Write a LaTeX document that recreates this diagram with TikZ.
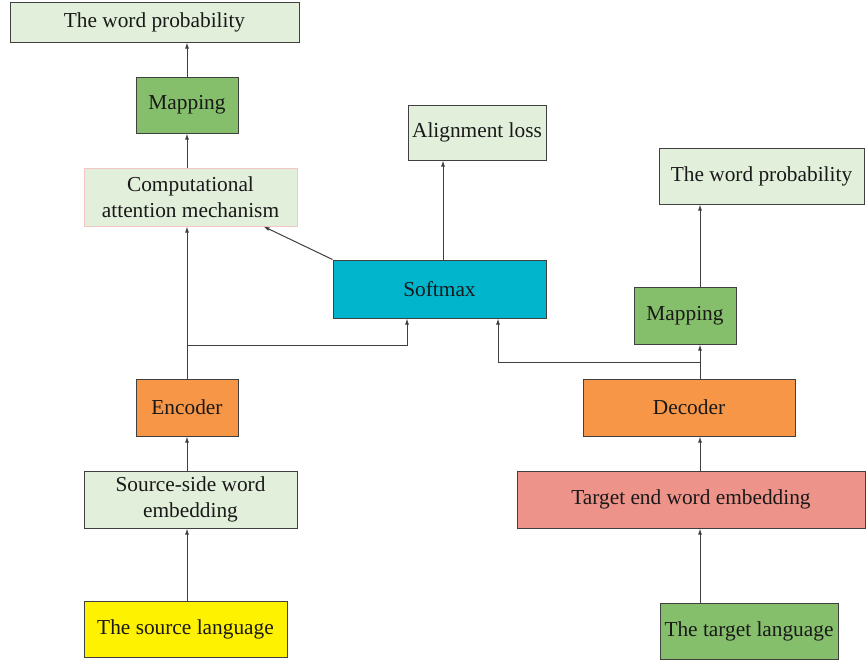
\documentclass[tikz,border=0pt]{standalone}
\usepackage{fontspec}
\setmainfont{Liberation Serif}
\usetikzlibrary{arrows.meta}

\definecolor{paleGreen}{HTML}{E2EFDA}
\definecolor{leafGreen}{HTML}{86BF6B}
\definecolor{encOrange}{HTML}{F79646}
\definecolor{softCyan}{HTML}{00B5CC}
\definecolor{salmonRed}{HTML}{EE938A}
\definecolor{srcYellow}{HTML}{FFF200}
\definecolor{pinkEdge}{HTML}{F4C7C3}

\begin{document}
\begin{tikzpicture}[x=0.75pt, y=-0.75pt,
        every node/.style={font=\fontsize{16}{19.5}\selectfont, text=black!90},
        block/.style={draw=black!75, line width=0.75pt, align=center, inner sep=0pt},
        flow/.style={->, >={Latex[length=4.5pt,width=3pt]}, draw=black!75, line width=0.75pt}
    ]
    \useasboundingbox (0,0) rectangle (868,661);

    % Source side
    \node (SrcLang) [block, fill=srcYellow, minimum width=152.25pt, minimum height=42pt] at (185.5,629) {The source language};
    \node (SrcEmb) [block, fill=paleGreen, minimum width=159.75pt, minimum height=42.75pt] at (190.5,499.5) {Source-side word\\embedding};
    \node (Encoder) [block, fill=encOrange, minimum width=76.5pt, minimum height=42.75pt] at (187,407.5) {Encoder};
    \node (Attn) [block, draw=pinkEdge, fill=paleGreen, minimum width=159.75pt, minimum height=43.5pt] at (190.5,197) {Computational\\attention mechanism};
    \node (MapL) [block, fill=leafGreen, minimum width=76.5pt, minimum height=42pt] at (187,105) {Mapping};
    \node (WordProbL) [block, fill=paleGreen, minimum width=216.75pt, minimum height=30pt] at (154.5,22) {The word probability};

    % Middle
    \node (Softmax) [block, fill=softCyan, minimum width=159.75pt, minimum height=43.5pt] at (439.5,289) {Softmax};
    \node (Align) [block, fill=paleGreen, minimum width=103.5pt, minimum height=41.25pt] at (477,132.5) {Alignment loss};

    % Target side
    \node (TgtLang) [block, fill=leafGreen, minimum width=133.5pt, minimum height=42pt] at (749,631) {The target language};
    \node (TgtEmb) [block, fill=salmonRed, minimum width=261pt, minimum height=42.75pt] at (691,499.5) {Target end word embedding};
    \node (Decoder) [block, fill=encOrange, minimum width=159pt, minimum height=42.75pt] at (689,407.5) {Decoder};
    \node (MapR) [block, fill=leafGreen, minimum width=76.5pt, minimum height=42.75pt] at (685,315.5) {Mapping};
    \node (WordProbR) [block, fill=paleGreen, minimum width=153.75pt, minimum height=42pt] at (761.5,176) {The word probability};

    % Left column
    \coordinate (LCol) at (187,0);
    \draw [flow] (SrcLang.north -| LCol) -- (SrcEmb.south -| LCol);
    \draw [flow] (SrcEmb.north -| LCol) -- (Encoder.south);
    \draw [flow] (Encoder.north) -- (Attn.south -| LCol);
    \draw [flow] (Attn.north -| LCol) -- (MapL.south);
    \draw [flow] (MapL.north) -- (WordProbL.south -| LCol);

    % Right column
    \coordinate (RCol) at (700,0);
    \draw [flow] (TgtLang.north -| RCol) -- (TgtEmb.south -| RCol);
    \draw [flow] (TgtEmb.north -| RCol) -- (Decoder.south -| RCol);
    \draw [flow] (Decoder.north -| RCol) -- (MapR.south -| RCol);
    \draw [flow] (MapR.north -| RCol) -- (WordProbR.south -| RCol);

    % Into and out of softmax
    \coordinate (EncTap) at (187,345);
    \coordinate (DecTap) at (700,362);
    \draw [flow] (EncTap) -| (Softmax.south -| 407,0);
    \draw [flow] (DecTap) -| (Softmax.south -| 498,0);
    \draw [flow] (Softmax.north -| 443,0) -- (Align.south -| 443,0);
    \draw [flow] (Softmax.north west) -- (Attn.-22);

\end{tikzpicture}
\end{document}
